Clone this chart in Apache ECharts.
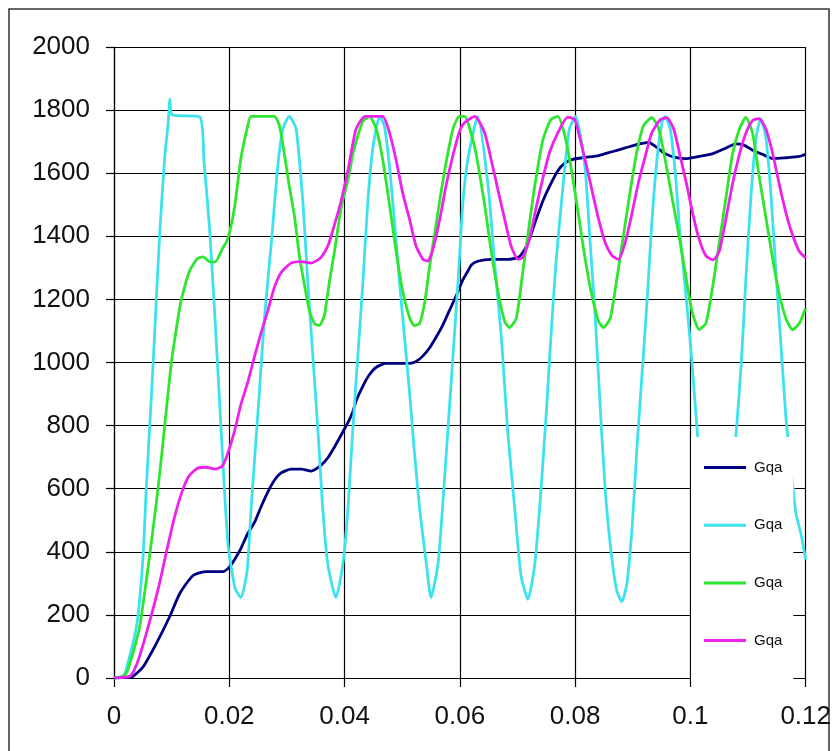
<!DOCTYPE html>
<html>
<head>
<meta charset="utf-8">
<script src="https://cdn.jsdelivr.net/npm/echarts@6/dist/echarts.min.js"></script>
<style>
html,body{margin:0;padding:0;background:#fff;}
#chart{width:834px;height:751px;}
</style>
</head>
<body>
<div id="chart"></div>
<script>
// X axis ticks and Y axis ticks
const xTicks = [0, 0.02, 0.04, 0.06, 0.08, 0.1, 0.12];
const yTicks = [0, 200, 400, 600, 800, 1000, 1200, 1400, 1600, 1800, 2000];
const seriesNames = ['Gqa', 'Gqa ', 'Gqa  ', 'Gqa   '];

// navy series [t, value]
const navyPts = [[0,0],[0.002,2],[0.00325,5],[0.00503,35],[0.00736,110],[0.00967,195],[0.01141,268],[0.01371,325],[0.016,337],[0.0189,337],[0.0201,353],[0.0209,375],[0.022,410],[0.0232,458],[0.0244,494],[0.0255,542],[0.0267,590],[0.0278,626],[0.029,650],[0.0307,662],[0.0325,662],[0.0342,656],[0.0359,674],[0.0371,698],[0.0383,734],[0.0394,770],[0.0406,810],[0.0414,842],[0.042,878],[0.0432,926],[0.0443,961],[0.0455,985],[0.0472,997],[0.0489,997],[0.0513,997],[0.0524,1003],[0.0536,1021],[0.0547,1045],[0.0559,1081],[0.057,1117],[0.0582,1165],[0.0594,1213],[0.0605,1261],[0.0614,1290],[0.062,1309],[0.0631,1321],[0.0654,1327],[0.0683,1327],[0.0701,1333],[0.0712,1357],[0.0721,1393],[0.0732,1452],[0.0744,1512],[0.0756,1560],[0.077,1608],[0.0782,1632],[0.0796,1644],[0.0817,1650],[0.0841,1656],[0.0864,1668],[0.0887,1680],[0.091,1692],[0.0928,1698],[0.0939,1685],[0.0956,1662],[0.0974,1650],[0.0992,1646],[0.1015,1653],[0.1039,1662],[0.1062,1680],[0.1079,1693],[0.1093,1689],[0.1108,1673],[0.1125,1660],[0.1143,1646],[0.1166,1649],[0.1189,1653],[0.12,1660]];

// cyan series [t, value]
const cyanPts = [[0,0],[0.001,0],[0.0019,15],[0.0039,163],[0.005,373],[0.0056,600],[0.0068,1000],[0.0079,1400],[0.0088,1650],[0.0094,1760],[0.0097,1835],[0.0101,1785],[0.0149,1778],[0.0156,1640],[0.0166,1420],[0.0178,1050],[0.0189,680],[0.0198,420],[0.021,285],[0.022,255],[0.0231,340],[0.0238,542],[0.0252,900],[0.0261,1140],[0.0273,1380],[0.0284,1620],[0.0293,1740],[0.0304,1780],[0.0316,1740],[0.0328,1500],[0.0336,1260],[0.0345,1020],[0.0354,780],[0.0362,540],[0.0371,360],[0.0385,255],[0.0397,360],[0.0406,540],[0.0414,780],[0.0423,1020],[0.0432,1260],[0.044,1500],[0.0449,1680],[0.0461,1780],[0.0469,1750],[0.0478,1620],[0.0487,1440],[0.0495,1260],[0.0504,1080],[0.0513,900],[0.0521,720],[0.053,540],[0.0542,360],[0.055,255],[0.0562,360],[0.057,540],[0.0579,780],[0.0588,1020],[0.0597,1260],[0.0605,1500],[0.0614,1645],[0.0631,1780],[0.0649,1560],[0.066,1321],[0.0672,1081],[0.0683,782],[0.0695,542],[0.0706,326],[0.0718,249],[0.073,360],[0.0741,602],[0.075,842],[0.0758,1081],[0.0767,1321],[0.0779,1560],[0.079,1740],[0.0801,1780],[0.0817,1620],[0.0826,1381],[0.0835,1141],[0.0844,842],[0.0852,602],[0.0861,422],[0.0872,278],[0.0881,242],[0.089,302],[0.0899,482],[0.0907,722],[0.0916,961],[0.0925,1201],[0.0933,1441],[0.0942,1645],[0.0951,1764],[0.0956,1780],[0.0965,1740],[0.0974,1596],[0.0982,1405],[0.0991,1237],[0.1,1060],[0.1006,920],[0.1012,780],[0.1021,560],[0.1033,330],[0.1045,245],[0.1057,330],[0.1068,560],[0.1079,770],[0.1088,990],[0.1096,1258],[0.1105,1526],[0.1114,1713],[0.1122,1773],[0.1131,1713],[0.114,1526],[0.1148,1298],[0.1157,1057],[0.1166,817],[0.1175,656],[0.1183,522],[0.1192,455],[0.12,375]];

// green series [t, value]
const greenPts = [[0,0],[0.0015,5],[0.00215,15],[0.0033,80],[0.00446,163],[0.0062,390],[0.00764,600],[0.0088,800],[0.00996,1000],[0.0111,1140],[0.0117,1200],[0.0131,1290],[0.0145,1330],[0.01545,1335],[0.0165,1320],[0.0175,1318],[0.0188,1360],[0.0197,1390],[0.0209,1490],[0.022,1645],[0.0232,1750],[0.0238,1780],[0.0278,1780],[0.0287,1750],[0.0296,1656],[0.0304,1560],[0.0313,1465],[0.0322,1333],[0.033,1250],[0.0339,1165],[0.0348,1123],[0.0356,1117],[0.0365,1150],[0.0374,1260],[0.0383,1357],[0.0394,1490],[0.0406,1580],[0.0414,1656],[0.042,1700],[0.0432,1765],[0.0443,1780],[0.0455,1740],[0.0466,1645],[0.0478,1500],[0.0489,1357],[0.0501,1225],[0.0513,1141],[0.0521,1117],[0.053,1123],[0.0539,1190],[0.0547,1297],[0.0556,1405],[0.0565,1512],[0.0576,1632],[0.0588,1740],[0.0599,1780],[0.0608,1780],[0.0626,1680],[0.0643,1500],[0.0654,1357],[0.0666,1225],[0.0678,1129],[0.0686,1111],[0.0698,1141],[0.0709,1285],[0.0718,1405],[0.073,1560],[0.0744,1705],[0.0758,1770],[0.077,1780],[0.0784,1705],[0.0796,1584],[0.0806,1465],[0.0817,1333],[0.0829,1213],[0.0841,1129],[0.0849,1111],[0.0861,1141],[0.0872,1261],[0.0884,1405],[0.0896,1548],[0.0907,1668],[0.0919,1752],[0.0933,1776],[0.0945,1740],[0.0956,1645],[0.0968,1524],[0.098,1405],[0.0991,1285],[0.1003,1160],[0.1015,1105],[0.1027,1125],[0.1039,1245],[0.105,1379],[0.1062,1526],[0.1073,1660],[0.1085,1740],[0.1096,1777],[0.1108,1726],[0.1119,1593],[0.1131,1459],[0.1143,1325],[0.1154,1218],[0.1166,1138],[0.1177,1104],[0.1189,1124],[0.1198,1164],[0.12,1170]];

// magenta series [t, value]
const magentaPts = [[0,0],[0.0027,5],[0.0035,25],[0.00446,70],[0.0062,180],[0.0079,300],[0.0091,400],[0.0105,510],[0.0118,590],[0.013,640],[0.0145,665],[0.016,668],[0.0175,662],[0.0188,672],[0.0197,710],[0.0209,782],[0.022,866],[0.0232,937],[0.0244,1021],[0.0255,1093],[0.0267,1165],[0.0278,1237],[0.029,1285],[0.0307,1315],[0.0325,1320],[0.0342,1315],[0.0359,1333],[0.0371,1369],[0.0383,1440],[0.0394,1512],[0.0406,1610],[0.0414,1690],[0.042,1740],[0.0432,1776],[0.0437,1780],[0.0466,1780],[0.0478,1728],[0.0489,1645],[0.0501,1536],[0.0513,1452],[0.0524,1369],[0.0536,1327],[0.0544,1321],[0.0553,1357],[0.0565,1452],[0.0576,1560],[0.0588,1656],[0.0599,1730],[0.0608,1760],[0.0626,1780],[0.0643,1728],[0.0654,1645],[0.0666,1548],[0.0678,1452],[0.0689,1369],[0.0701,1327],[0.0709,1333],[0.0721,1393],[0.0732,1488],[0.0744,1584],[0.0756,1668],[0.077,1728],[0.0787,1778],[0.0799,1770],[0.0806,1728],[0.0817,1645],[0.0829,1548],[0.0841,1452],[0.0852,1381],[0.0864,1339],[0.0875,1327],[0.0887,1381],[0.0899,1476],[0.091,1572],[0.0922,1656],[0.0933,1728],[0.0948,1770],[0.0959,1776],[0.0971,1740],[0.0982,1656],[0.0994,1560],[0.1004,1472],[0.1015,1392],[0.1027,1338],[0.1039,1325],[0.105,1352],[0.1062,1459],[0.1073,1566],[0.1085,1660],[0.1096,1726],[0.1108,1767],[0.1119,1773],[0.1131,1740],[0.1143,1660],[0.1154,1566],[0.1166,1472],[0.1177,1405],[0.1189,1352],[0.12,1332]];

const seriesData = [navyPts, cyanPts, greenPts, magentaPts];
const seriesColors = ['#000080', '#3CE2EE', '#2EE62E', '#EE22EE'];

const chart = echarts.init(document.getElementById('chart'), null, {renderer: 'canvas'});
const font = 'Liberation Sans, Arial, sans-serif';

chart.setOption({
  animation: false,
  backgroundColor: '#fff',
  graphic: [{
    type: 'rect', z: 0, silent: true,
    shape: {x: 9, y: 9, width: 820, height: 760},
    style: {fill: 'none', stroke: '#333', lineWidth: 1.5}
  }],
  grid: {left: 114, right: 28, top: 47, bottom: 73, containLabel: false},
  xAxis: {
    type: 'value', min: xTicks[0], max: xTicks[xTicks.length - 1], interval: 0.02,
    axisLine: {show: true, lineStyle: {color: '#000', width: 1.2}},
    axisTick: {show: true, length: 9, inside: false, lineStyle: {color: '#000', width: 1.2}},
    splitLine: {show: true, lineStyle: {color: '#000', width: 1.2}},
    axisLabel: {
      margin: 26, color: '#111', fontSize: 26, fontFamily: font, lineHeight: 26,
      formatter: v => String(+v.toFixed(2))
    }
  },
  yAxis: {
    type: 'value', min: yTicks[0], max: yTicks[yTicks.length - 1], interval: 200,
    axisLine: {show: true, lineStyle: {color: '#000', width: 1.2}},
    axisTick: {show: true, length: 8, inside: false, lineStyle: {color: '#000', width: 1.2}},
    splitLine: {show: true, lineStyle: {color: '#000', width: 1.2}},
    axisLabel: {margin: 24, color: '#111', fontSize: 26, fontFamily: font,
      formatter: v => String(v)}
  },
  legend: {
    orient: 'vertical', left: 691, top: 437, z: 10,
    backgroundColor: '#fff', borderWidth: 0,
    padding: [23, 11, 33, 13],
    itemGap: 42.7, itemWidth: 42, itemHeight: 3, icon: 'rect',
    data: seriesNames,
    formatter: n => n.trim(),
    textStyle: {fontSize: 15, fontFamily: font, color: '#111', lineHeight: 15, padding: [0, 0, 0, 3]}
  },
  series: seriesData.map((d, i) => ({
    name: seriesNames[i], type: 'line', data: d,
    showSymbol: false, symbol: 'none', smooth: 0.2,
    color: seriesColors[i],
    lineStyle: {width: 2.8, color: seriesColors[i]},
    z: 2 + i * 0.1
  }))
});
</script>
</body>
</html>
